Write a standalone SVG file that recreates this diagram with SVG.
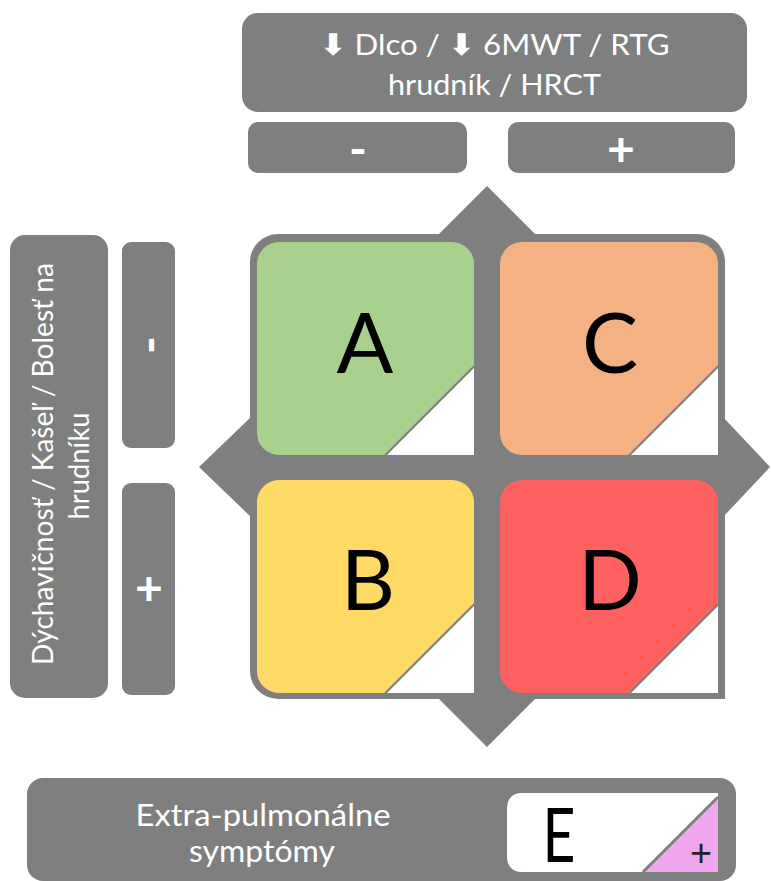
<svg xmlns="http://www.w3.org/2000/svg" width="771" height="881" viewBox="0 0 771 881">
<style>
.g{fill:#7f7f7f}
.w{fill:#ffffff}
.lbl{font-family:Lato,"Open Sans","DejaVu Sans",sans-serif;fill:#ffffff;text-anchor:middle}
.big{font-family:Lato,"Open Sans",sans-serif;fill:#000000;text-anchor:middle;font-size:84px}
.sep{stroke:#7f7f7f;stroke-width:3;fill:none}
.arr{font-family:"DejaVu Sans",sans-serif;font-weight:bold;font-size:30px}
</style>
<rect width="771" height="881" fill="#ffffff"/>
<g id="top-header">
<rect class="g" x="242" y="13" width="505" height="99" rx="16"/>
<text class="lbl" x="494.5" y="55" font-size="29" textLength="350" lengthAdjust="spacingAndGlyphs"><tspan class="arr">⬇</tspan> Dlco / <tspan class="arr">⬇</tspan> 6MWT / RTG</text>
<text class="lbl" x="494.5" y="95" font-size="29" textLength="213" lengthAdjust="spacingAndGlyphs">hrudník / HRCT</text>
</g>
<g id="top-minus">
<rect class="g" x="248" y="122" width="219" height="51" rx="10"/>
<text class="lbl" x="358" y="166" font-size="48" font-weight="bold">-</text>
</g>
<g id="top-plus">
<rect class="g" x="508" y="122" width="227" height="51" rx="10"/>
<text class="lbl" x="621" y="166" font-size="48" font-weight="bold">+</text>
</g>
<g id="left-header">
<rect class="g" x="10" y="235" width="98" height="463" rx="15"/>
<text class="lbl" font-size="28" transform="translate(53,464) rotate(-90)" textLength="402" lengthAdjust="spacingAndGlyphs">Dýchavičnosť / Kašeľ / Bolesť na</text>
<text class="lbl" font-size="28" transform="translate(89,466) rotate(-90)" textLength="107" lengthAdjust="spacingAndGlyphs">hrudníku</text>
</g>
<g id="left-minus">
<rect class="g" x="122" y="242" width="53" height="206" rx="9"/>
<text class="lbl" font-size="48" font-weight="bold" transform="translate(166,345) rotate(-90)">-</text>
</g>
<g id="left-plus">
<rect class="g" x="122" y="483" width="53" height="212" rx="9"/>
<text class="lbl" font-size="48" font-weight="bold" x="149" y="605">+</text>
</g>
<g id="grid-frame">
<polygon class="g" points="437,236 487,186 537,236"/>
<polygon class="g" points="437,697 487,747 537,697"/>
<polygon class="g" points="251,417 199,467 251,517"/>
<polygon class="g" points="723,417 770,467 723,517"/>
<path class="g" d="M278,234 H697 A28,28 0 0 1 725,262 V699 H278 A28,28 0 0 1 250,671 V262 A28,28 0 0 1 278,234 Z"/>
</g>
<g id="quadrant-A">
<path fill="#a9d18e" d="M279,242 H452 A22,22 0 0 1 474,264 V365 L384,455 H279 A22,22 0 0 1 257,433 V264 A22,22 0 0 1 279,242 Z"/>
<polygon class="w" points="474,368 474,455 387,455"/>
<text class="big" x="365" y="373">A</text>
</g>
<g id="quadrant-C">
<path fill="#f4b183" d="M522,242 H696 A22,22 0 0 1 718,264 V365 L628,455 H522 A22,22 0 0 1 500,433 V264 A22,22 0 0 1 522,242 Z"/>
<polygon class="w" points="718,368 718,455 631,455"/>
<text class="big" x="610" y="373">C</text>
</g>
<g id="quadrant-B">
<path fill="#ffd966" d="M279,480 H452 A22,22 0 0 1 474,502 V603 L384,693 H279 A22,22 0 0 1 257,671 V502 A22,22 0 0 1 279,480 Z"/>
<polygon class="w" points="474,606 474,693 387,693"/>
<text class="big" x="368" y="610">B</text>
</g>
<g id="quadrant-D">
<path fill="#ff6161" d="M522,480 H696 A22,22 0 0 1 718,502 V603 L628,693 H522 A22,22 0 0 1 500,671 V502 A22,22 0 0 1 522,480 Z"/>
<polygon class="w" points="718,606 718,693 631,693"/>
<text class="big" x="610" y="610">D</text>
</g>
<g id="bottom-E">
<rect class="g" x="27" y="778" width="709" height="103" rx="16"/>
<text class="lbl" x="263" y="826" font-size="31" textLength="255" lengthAdjust="spacingAndGlyphs">Extra-pulmonálne</text>
<text class="lbl" x="262" y="862" font-size="31" textLength="146" lengthAdjust="spacingAndGlyphs">symptómy</text>
<path class="w" d="M521,793 H718 V872 H521 A14,14 0 0 1 507,858 V807 A14,14 0 0 1 521,793 Z"/>
<polygon fill="#eea6ee" points="718,797 718,872 643,872"/>
<line class="sep" x1="718" y1="797" x2="643" y2="872" stroke-width="2"/>
<text font-family="Lato,'Open Sans',sans-serif" font-size="76" fill="#000" text-anchor="middle" transform="translate(559,862) scale(0.75,1)">E</text>
<text font-family="Lato,'Open Sans',sans-serif" font-size="38" fill="#222" text-anchor="middle" x="701" y="866">+</text>
</g>
</svg>
